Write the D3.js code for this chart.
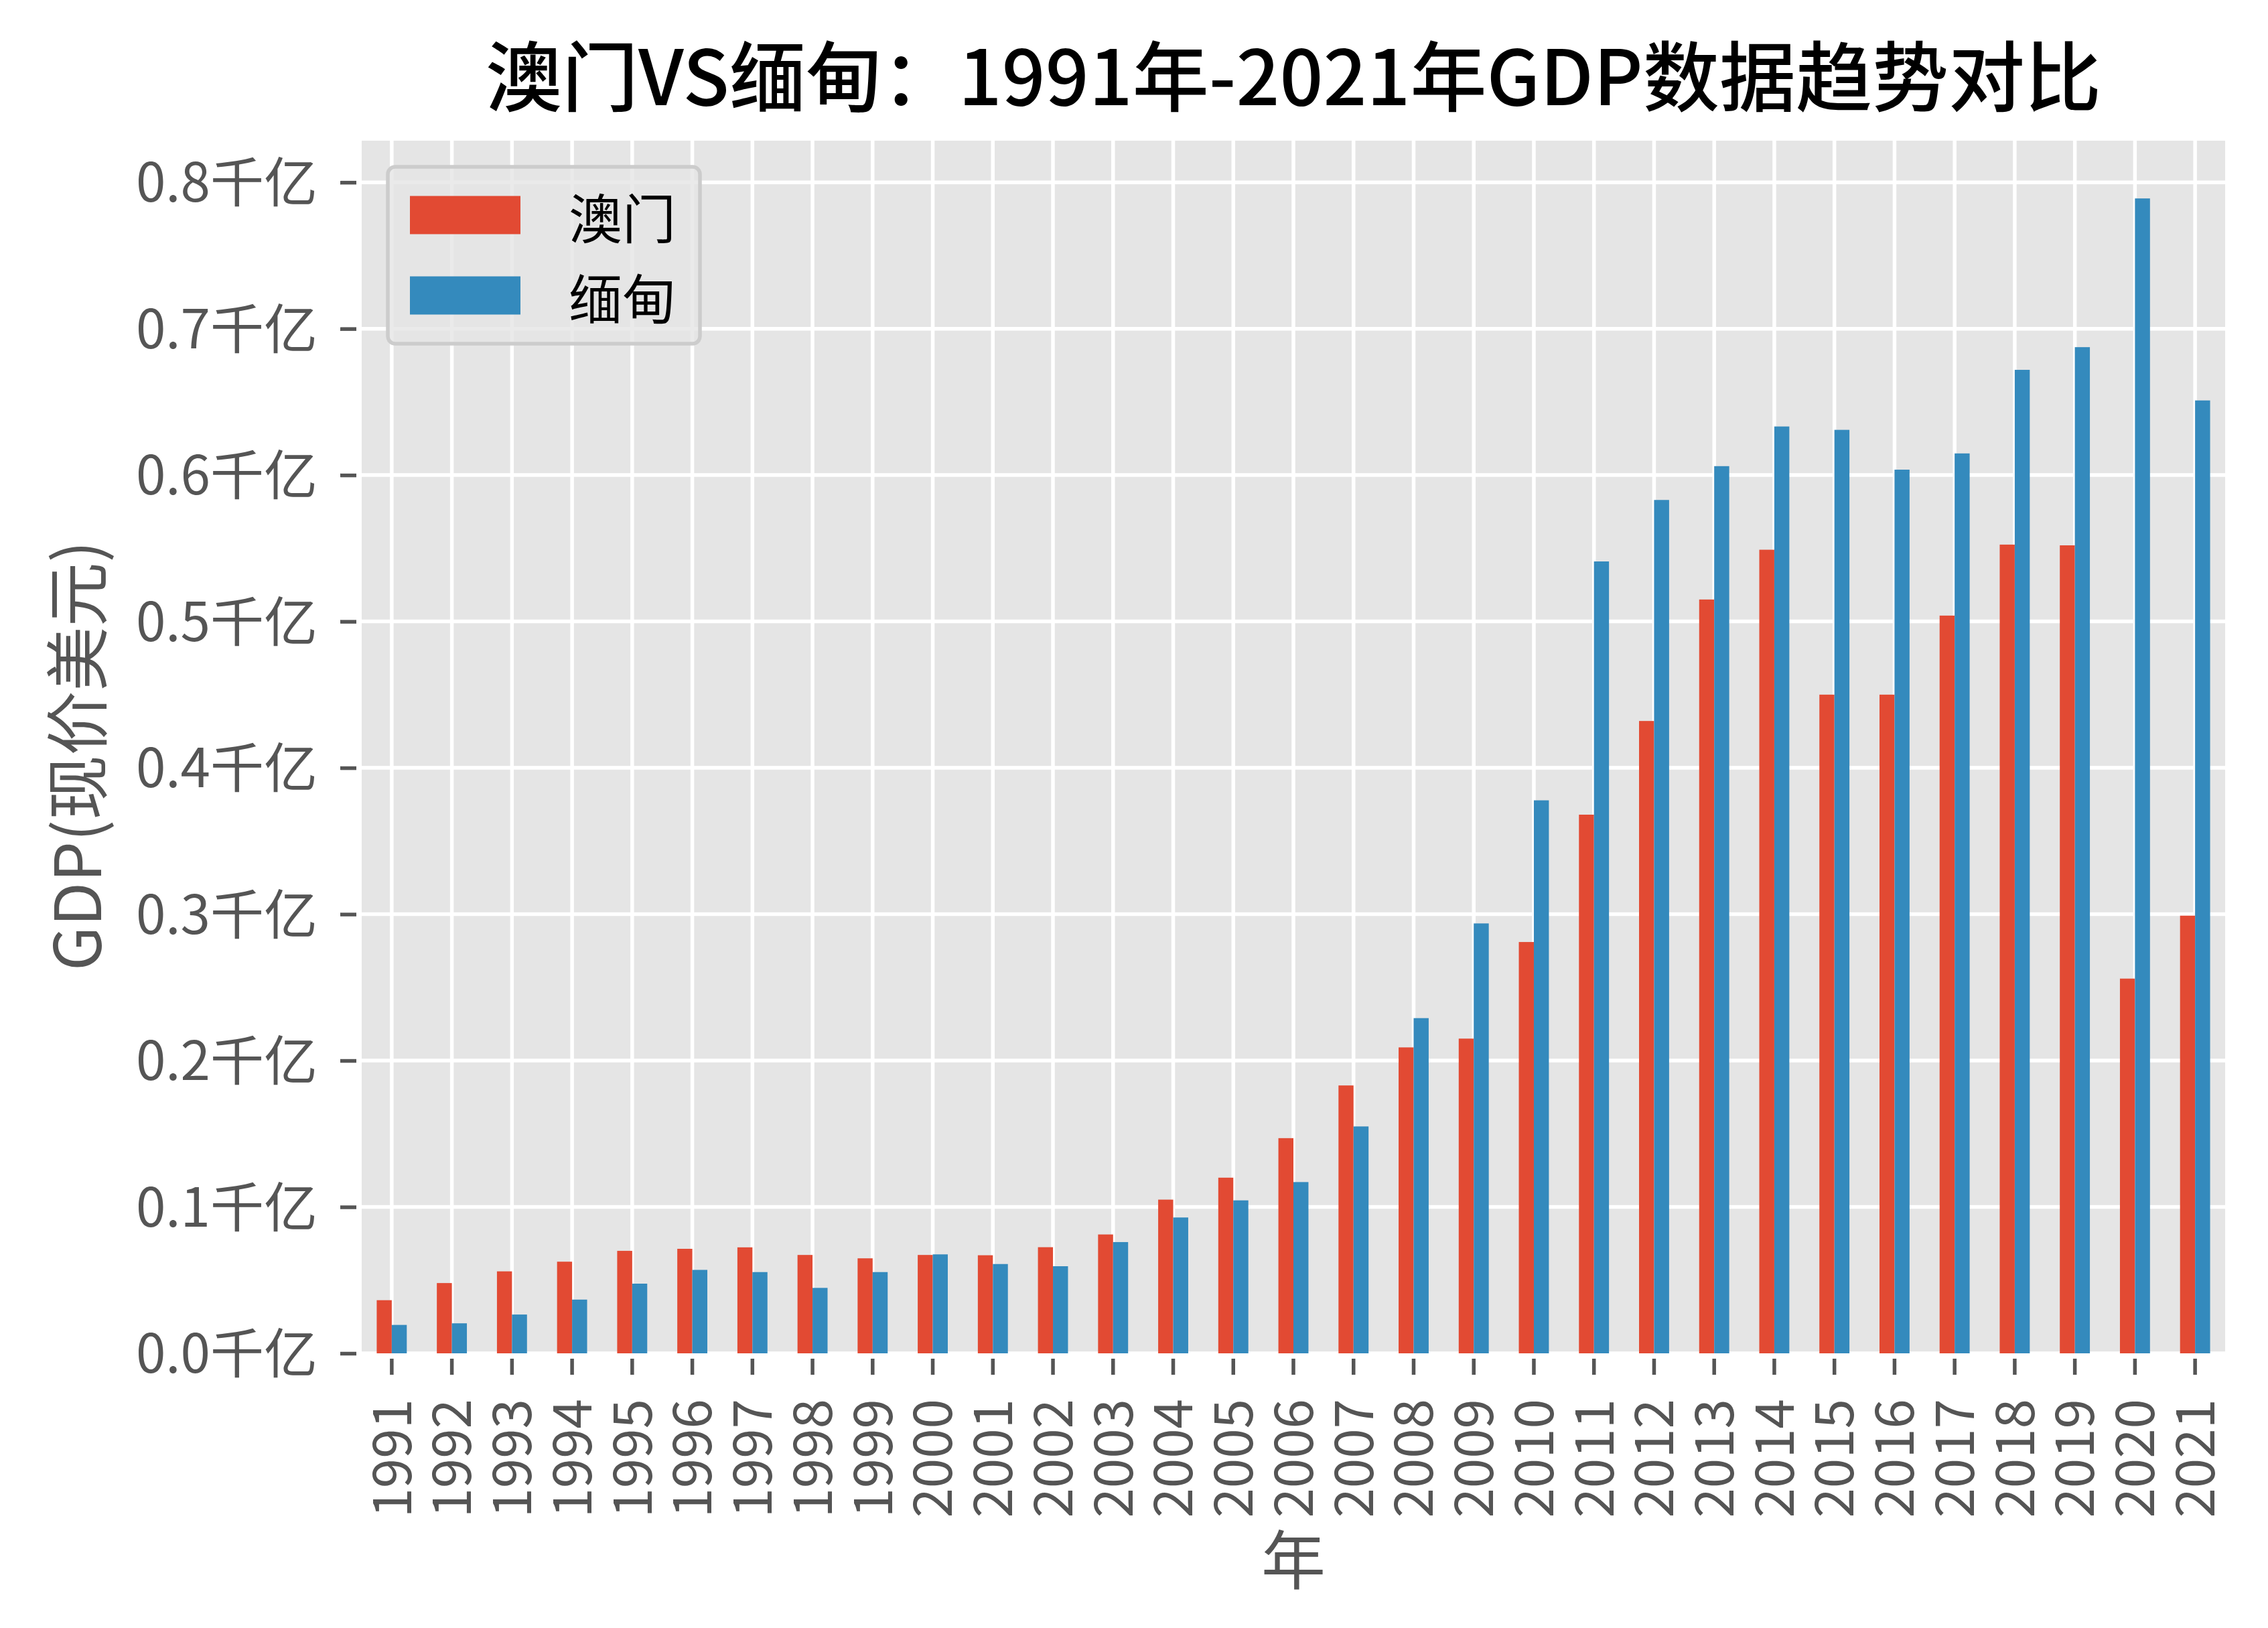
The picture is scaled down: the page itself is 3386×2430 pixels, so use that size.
<!DOCTYPE html>
<html>
<head>
<meta charset="utf-8">
<script src="https://cdn.jsdelivr.net/npm/d3@7"></script>
<style>
  html, body { margin: 0; padding: 0; background: #ffffff; }
  svg { display: block; }
  text { font-family: "Noto Sans CJK SC", "Noto Sans", sans-serif; }
</style>
</head>
<body>
<svg id="chart" width="3386" height="2430"></svg>
<script>
// ---- data (units: 千亿 US$) ----
const years = ["1991","1992","1993","1994","1995","1996","1997","1998","1999","2000",
  "2001","2002","2003","2004","2005","2006","2007","2008","2009","2010",
  "2011","2012","2013","2014","2015","2016","2017","2018","2019","2020","2021"];
const seriesNames = ["澳门", "缅甸"];
const macao = [0.0363, 0.048, 0.056, 0.0626, 0.070, 0.0714, 0.0724, 0.0672, 0.0649, 0.0672,
  0.067, 0.0725, 0.0812, 0.105, 0.120, 0.147, 0.183, 0.209, 0.215, 0.281,
  0.368, 0.432, 0.515, 0.549, 0.450, 0.450, 0.504, 0.5525, 0.552, 0.256, 0.299];
const myanmar = [0.0194, 0.0205, 0.0265, 0.0367, 0.0476, 0.057, 0.0555, 0.0447, 0.0555, 0.0676,
  0.061, 0.0595, 0.076, 0.0928, 0.1045, 0.117, 0.155, 0.229, 0.2937, 0.3778,
  0.541, 0.583, 0.6061, 0.6332, 0.6309, 0.6037, 0.6148, 0.6719, 0.6874, 0.789, 0.651];
const yTicks = [0, 0.1, 0.2, 0.3, 0.4, 0.5, 0.6, 0.7, 0.8];
const yTickLabels = ["0.0千亿","0.1千亿","0.2千亿","0.3千亿","0.4千亿","0.5千亿","0.6千亿","0.7千亿","0.8千亿"];
const titleText = "澳门VS缅甸：1991年-2021年GDP数据趋势对比";
const xLabel = "年";
const yLabel = "GDP(现价美元)";

// ---- layout ----
const colors = ["#E24A33", "#348ABD"];
const L = 540, R = 3322, T = 210, B = 2020;
const svg = d3.select("#chart");

const x = d3.scaleBand().domain(years).range([L, R]).paddingInner(0).paddingOuter(0);
const yMax = d3.max(macao.concat(myanmar)) * 1.05;
const y = d3.scaleLinear().domain([0, yMax]).range([B, T]);

// background
svg.append("rect").attr("x", L).attr("y", T).attr("width", R - L).attr("height", B - T)
  .attr("fill", "#E5E5E5");

// grid
const grid = svg.append("g");
grid.selectAll("line.h").data(yTicks).join("line")
  .attr("x1", L).attr("x2", R)
  .attr("y1", d => y(d)).attr("y2", d => y(d))
  .attr("stroke", "#ffffff").attr("stroke-width", 5.5);
grid.selectAll("line.v").data(years).join("line")
  .attr("y1", T).attr("y2", B)
  .attr("x1", d => x(d) + x.bandwidth() / 2).attr("x2", d => x(d) + x.bandwidth() / 2)
  .attr("stroke", "#ffffff").attr("stroke-width", 5.5);

// bars
const bw = x.bandwidth() * 0.25;
const series = [macao, myanmar];
series.forEach((vals, si) => {
  svg.append("g").selectAll("rect").data(years).join("rect")
    .attr("x", (d) => x(d) + x.bandwidth() / 2 + (si - 1) * bw)
    .attr("width", bw)
    .attr("y", (d, i) => y(vals[i]))
    .attr("height", (d, i) => B - y(vals[i]))
    .attr("fill", colors[si]);
});

// y axis
const yAxis = svg.append("g").attr("transform", `translate(${L - 8},0)`)
  .call(d3.axisLeft(y).tickValues(yTicks).tickFormat((d, i) => yTickLabels[i]).tickSize(24).tickPadding(34));
yAxis.select(".domain").remove();
yAxis.selectAll(".tick line").attr("stroke", "#555555").attr("stroke-width", 5.5);
yAxis.selectAll(".tick text").attr("fill", "#555555").attr("font-size", 80)
  .attr("dy", "0.36em").style("font-family", '"Noto Sans CJK SC", sans-serif');

// x axis
const xAxis = svg.append("g").attr("transform", `translate(0,${B + 8})`)
  .call(d3.axisBottom(x).tickSize(24));
xAxis.select(".domain").remove();
xAxis.selectAll(".tick line").attr("stroke", "#555555").attr("stroke-width", 5.5);
xAxis.selectAll(".tick text")
  .attr("fill", "#555555").attr("font-size", 80)
  .attr("transform", "rotate(-90)")
  .attr("x", -60).attr("y", 0).attr("dy", "0.36em")
  .attr("text-anchor", "end")
  .style("font-family", '"Noto Sans CJK SC", sans-serif');

// axis labels
svg.append("text").attr("x", (L + R) / 2).attr("y", 2322)
  .attr("text-anchor", "middle").attr("dominant-baseline", "central")
  .attr("font-size", 96).attr("fill", "#555555").text(xLabel);
svg.append("text").attr("transform", `translate(109,1128) rotate(-90)`)
  .attr("text-anchor", "middle").attr("dominant-baseline", "central")
  .attr("font-size", 96).attr("fill", "#555555").text(yLabel);

// title
svg.append("text").attr("x", (L + R) / 2).attr("y", 157)
  .attr("text-anchor", "middle").attr("font-size", 114).attr("font-weight", 500)
  .attr("fill", "#000000").text(titleText);

// legend
const lg = svg.append("g");
lg.append("rect").attr("x", 579).attr("y", 249).attr("width", 466).attr("height", 264)
  .attr("rx", 11).attr("ry", 11)
  .attr("fill", "#E5E5E5").attr("fill-opacity", 0.8)
  .attr("stroke", "#CCCCCC").attr("stroke-width", 5.5);
seriesNames.forEach((name, i) => {
  const cy = 321 + i * 120;
  lg.append("rect").attr("x", 612).attr("y", cy - 28.5).attr("width", 165).attr("height", 57)
    .attr("fill", colors[i]);
  lg.append("text").attr("x", 849).attr("y", cy).attr("dominant-baseline", "central")
    .attr("font-size", 80).attr("fill", "#000000").text(name);
});
</script>
</body>
</html>
